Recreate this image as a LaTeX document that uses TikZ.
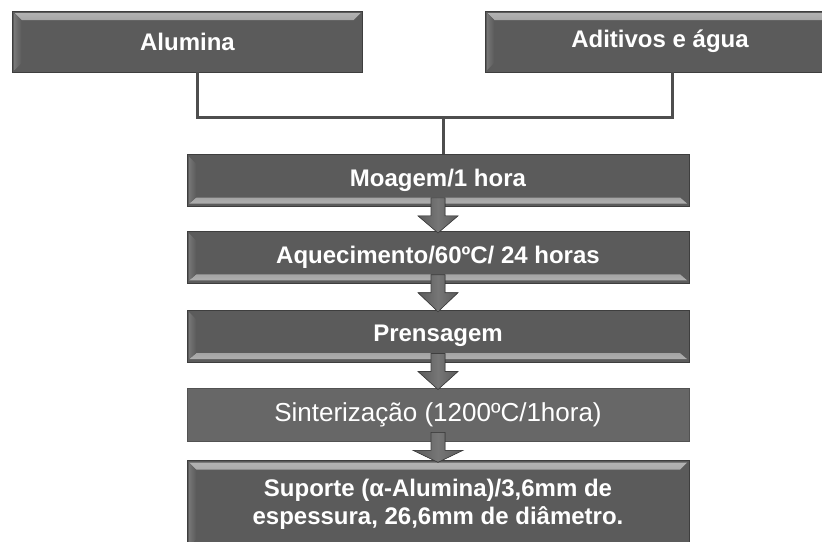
\documentclass[tikz,border=0pt]{standalone}
\usepackage{fontspec}
\setmainfont{Liberation Sans}
\usetikzlibrary{positioning, calc}

\definecolor{caixa}{HTML}{5B5B5B}
\definecolor{borda}{HTML}{3E3E3E}
\definecolor{brilho}{HTML}{B4B4B4}
\definecolor{lateral}{HTML}{767676}
\definecolor{sinter}{HTML}{676767}
\definecolor{linha}{HTML}{4E4E4E}

\tikzset{
  etapa/.style={rectangle, draw=borda, line width=0.8pt, fill=caixa, text=white,
    font=\bfseries\fontsize{24}{28}\selectfont, align=center, inner sep=0pt,
    minimum width=502pt, minimum height=52pt},
  entrada/.style={etapa, minimum width=350pt, minimum height=61pt},
  bisel topo/.style={path picture={
    \fill[top color=brilho, bottom color=caixa]
      ($(path picture bounding box.north west)+(2pt,-2pt)$) -- ($(path picture bounding box.north east)+(-2pt,-2pt)$)
      -- ($(path picture bounding box.north east)+(-9pt,-9pt)$) -- ($(path picture bounding box.north west)+(9pt,-9pt)$) -- cycle;
    \fill[left color=lateral, right color=caixa]
      ($(path picture bounding box.north west)+(2pt,-2pt)$) -- ($(path picture bounding box.north west)+(9pt,-9pt)$)
      -- ($(path picture bounding box.south west)+(9pt,9pt)$) -- ($(path picture bounding box.south west)+(2pt,2pt)$) -- cycle;
  }},
  bisel base/.style={path picture={
    \fill[top color=caixa, bottom color=brilho]
      ($(path picture bounding box.south west)+(9pt,9pt)$) -- ($(path picture bounding box.south east)+(-9pt,9pt)$)
      -- ($(path picture bounding box.south east)+(-2pt,3pt)$) -- ($(path picture bounding box.south west)+(2pt,3pt)$) -- cycle;
    \fill[left color=lateral, right color=caixa]
      ($(path picture bounding box.north west)+(2pt,-2pt)$) -- ($(path picture bounding box.north west)+(9pt,-9pt)$)
      -- ($(path picture bounding box.south west)+(9pt,9pt)$) -- ($(path picture bounding box.south west)+(2pt,3pt)$) -- cycle;
  }},
  conector/.style={draw=linha, line width=3pt},
  seta/.style={left color=caixa, right color=caixa, middle color=lateral, draw=borda, line width=0.6pt},
}

% seta de bloco entre duas etapas
\newcommand{\seta}[3][20pt]{
  \filldraw[seta] ($(#2.south)+(-7pt,9pt)$) -- ($(#2.south)+(7pt,9pt)$)
    -- ($(#2.south)+(7pt,-9pt)$) -- ($(#2.south)+(#1,-9pt)$)
    -- ($(#3.north)+(0,-2pt)$)
    -- ($(#2.south)+(-#1,-9pt)$) -- ($(#2.south)+(-7pt,-9pt)$) -- cycle;
}

\begin{document}
\begin{tikzpicture}[x=1pt, y=-1pt]
  \useasboundingbox (0,0) rectangle (822,541);

  % Entradas
  \node (alumina) [entrada, bisel topo] at (187.5,41.5) {Alumina};
  \node (aditivos) [entrada, bisel topo] at (660,41.5) {Aditivos e água};

  % Etapas
  \node (moagem) [etapa, bisel base] at (438,180.5) {Moagem/1 hora};
  \node (aquecimento) [etapa, bisel base, below=24pt of moagem] {Aquecimento/60ºC/ 24 horas};
  \node (prensagem) [etapa, bisel base, below=26pt of aquecimento] {Prensagem};
  \node (sinterizacao) [etapa, fill=sinter, draw=sinter!80!black, minimum height=53pt,
    font=\fontsize{26}{30}\selectfont, below=25pt of prensagem] {Sinterização (1200ºC/1hora)};
  \node (suporte) [etapa, bisel topo, minimum height=88pt, below=19pt of sinterizacao]
    {Suporte (α-Alumina)/3,6mm de\\espessura, 26,6mm de diâmetro.};

  % Ligacoes
  \coordinate (juncao) at (443,117);
  \draw[conector] ([xshift=9.5pt]alumina.south) |- (juncao);
  \draw[conector] ([xshift=12pt]aditivos.south) |- (juncao);
  \draw[conector] (juncao) -- (juncao |- moagem.north);

  % Setas
  \seta{moagem}{aquecimento}
  \seta{aquecimento}{prensagem}
  \seta{prensagem}{sinterizacao}
  \seta[25pt]{sinterizacao}{suporte}

\end{tikzpicture}
\end{document}
